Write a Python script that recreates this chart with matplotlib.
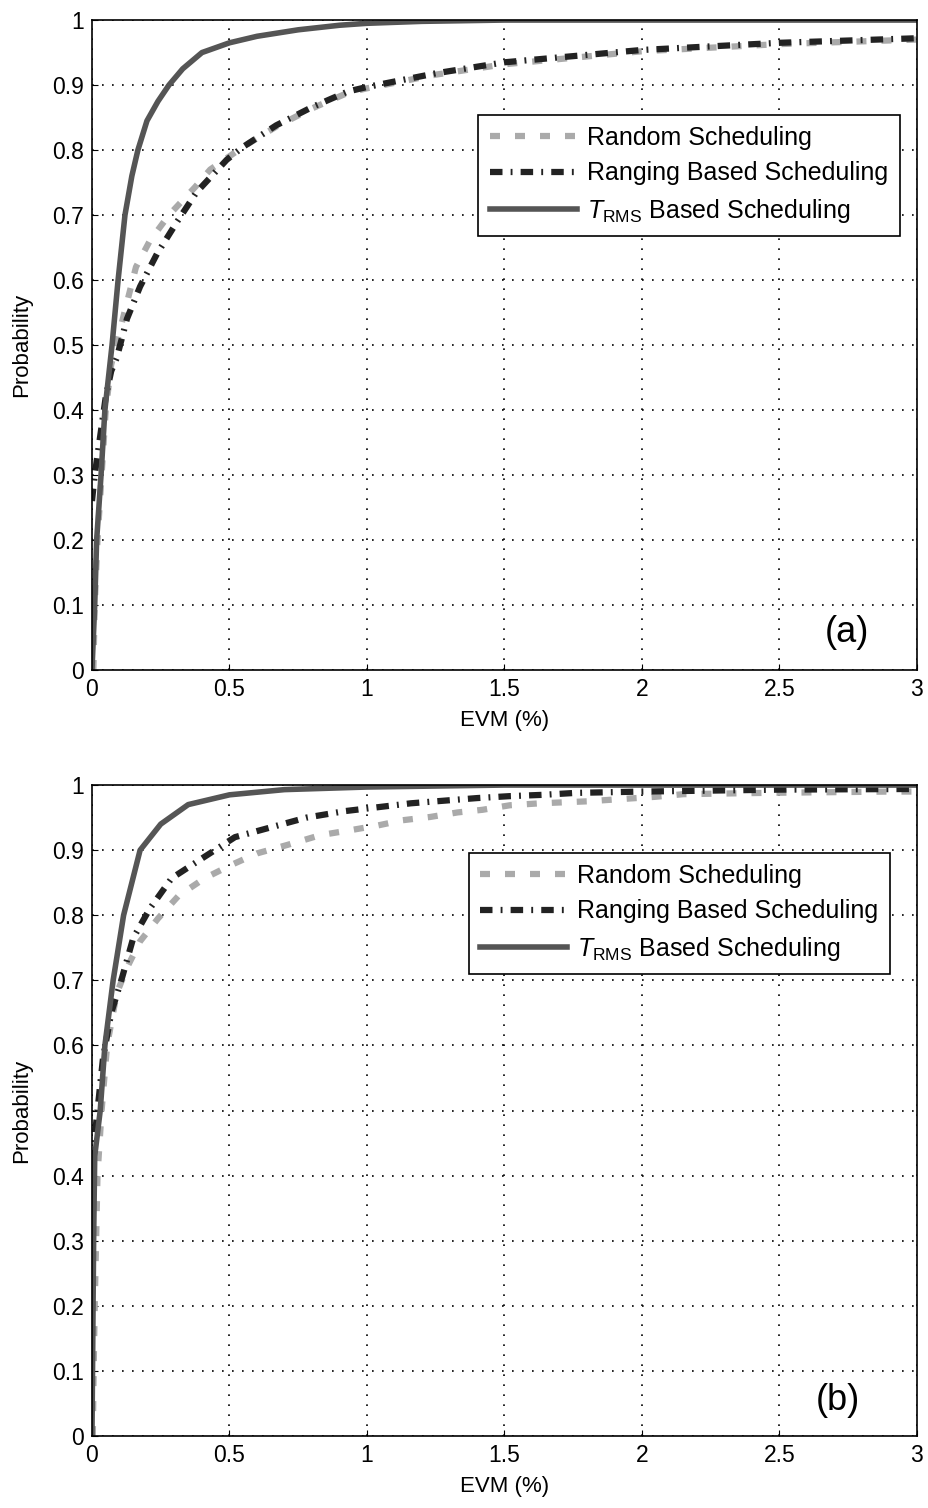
import matplotlib
matplotlib.use('Agg')
import matplotlib.pyplot as plt

plt.rcParams['font.family'] = ['Liberation Sans', 'DejaVu Sans']
plt.rcParams['mathtext.fontset'] = 'custom'
plt.rcParams['mathtext.rm'] = 'Liberation Sans'
plt.rcParams['mathtext.it'] = 'Liberation Sans:italic'

labels = ['Random Scheduling', 'Ranging Based Scheduling', r'$T_{\rm RMS}$ Based Scheduling']
xticks = [0, 0.5, 1, 1.5, 2, 2.5, 3]
yticks = [0, 0.1, 0.2, 0.3, 0.4, 0.5, 0.6, 0.7, 0.8, 0.9, 1]
xticklabels = ['0', '0.5', '1', '1.5', '2', '2.5', '3']
yticklabels = ['0', '0.1', '0.2', '0.3', '0.4', '0.5', '0.6', '0.7', '0.8', '0.9', '1']

# (a)
a_rand_x = [0.005, 0.01, 0.02, 0.035, 0.05, 0.07, 0.1, 0.13, 0.16, 0.21, 0.28, 0.375, 0.43, 0.55,
            0.67, 0.8, 0.93, 1.0, 1.25, 1.5, 2.0, 2.5, 3.0]
a_rand_y = [0, 0.1, 0.2, 0.3, 0.4, 0.47, 0.52, 0.57, 0.62, 0.66, 0.70, 0.743, 0.77, 0.805,
            0.836, 0.864, 0.888, 0.895, 0.916, 0.932, 0.952, 0.963, 0.97]
a_rang_x = [0, 0.01, 0.03, 0.05, 0.07, 0.09, 0.127, 0.175, 0.236, 0.31, 0.38, 0.49, 0.55, 0.67,
            0.8, 0.93, 1.0, 1.25, 1.5, 2.0, 2.5, 3.0]
a_rang_y = [0.26, 0.3, 0.36, 0.42, 0.46, 0.48, 0.54, 0.59, 0.64, 0.69, 0.735, 0.785, 0.805, 0.838,
            0.866, 0.89, 0.897, 0.918, 0.935, 0.954, 0.965, 0.972]
a_trms_x = [0, 0.005, 0.01, 0.017, 0.033, 0.047, 0.073, 0.095, 0.12, 0.145, 0.167, 0.2, 0.24,
            0.28, 0.33, 0.4, 0.5, 0.6, 0.75, 0.9, 1.0, 1.2, 1.5, 2, 3]
a_trms_y = [0, 0.05, 0.1, 0.2, 0.3, 0.4, 0.5, 0.6, 0.7, 0.76, 0.8, 0.845, 0.875,
            0.9, 0.925, 0.95, 0.965, 0.975, 0.985, 0.992, 0.995, 0.998, 1, 1, 1]

# (b)
b_rand_x = [0.003, 0.006, 0.01, 0.015, 0.02, 0.035, 0.055, 0.09, 0.128, 0.175, 0.24, 0.315, 0.41,
            0.505, 0.6, 0.71, 0.83, 0.93, 1.04, 1.13, 1.23, 1.33, 1.42, 1.52, 1.63, 1.8, 2.05,
            2.15, 2.45, 2.9, 3.0]
b_rand_y = [0, 0.1, 0.2, 0.3, 0.4, 0.5, 0.6, 0.68, 0.72, 0.76, 0.795, 0.83, 0.857,
            0.877, 0.895, 0.908, 0.923, 0.93, 0.938, 0.946, 0.951, 0.958, 0.962, 0.969, 0.972,
            0.975, 0.982, 0.986, 0.988, 0.99, 0.99]
b_rang_x = [0, 0.02, 0.04, 0.07, 0.11, 0.15, 0.21, 0.29, 0.41, 0.52, 0.65, 0.78, 0.92, 1.04,
            1.16, 1.28, 1.4, 1.52, 1.64, 1.76, 2.0, 2.5, 3.0]
b_rang_y = [0.42, 0.5, 0.58, 0.65, 0.705, 0.765, 0.81, 0.857, 0.89, 0.92, 0.935, 0.95, 0.96,
            0.966, 0.972, 0.976, 0.98, 0.983, 0.985, 0.988, 0.99, 0.993, 0.994]
b_trms_x = [0, 0.003, 0.006, 0.01, 0.03, 0.047, 0.077, 0.115, 0.175, 0.25, 0.35, 0.5, 0.7,
            1.0, 1.5, 3]
b_trms_y = [0, 0.15, 0.3, 0.43, 0.5, 0.6, 0.7, 0.8, 0.9, 0.94, 0.97, 0.985, 0.993,
            0.997, 1, 1]

fig = plt.figure(figsize=(9.29, 15.08), dpi=100)
ax1 = fig.add_axes([0.099, 0.5557, 0.888, 0.431])
ax2 = fig.add_axes([0.099, 0.0477, 0.888, 0.4317])

def drawPanel(ax, rx, ry, gx, gy, tx, ty, tag, legPos):
    ax.plot(rx, ry, color='#aaaaaa', lw=4.5, linestyle=(0, (1.6, 2.4)), label=labels[0])
    ax.plot(gx, gy, color='#222222', lw=4.5, linestyle=(0, (2.0, 1.3, 0.3, 1.3)), label=labels[1])
    ax.plot(tx, ty, color='#555555', lw=4, label=labels[2])
    ax.set_xlim(0, 3)
    ax.set_ylim(0, 1)
    ax.set_xticks(xticks)
    ax.set_xticklabels(xticklabels)
    ax.set_yticks(yticks)
    ax.set_yticklabels(yticklabels)
    ax.tick_params(direction='in', labelsize=16.5, length=4, pad=6)
    ax.grid(True, color='black', linestyle=(0, (1, 5)), lw=1.2)
    for s in ax.spines.values():
        s.set_linewidth(1.2)
    ax.set_xlabel('EVM (%)', fontsize=16, labelpad=6)
    ax.set_ylabel('Probability', fontsize=16, labelpad=14)
    leg = ax.legend(loc='upper right', bbox_to_anchor=legPos, fontsize=18, handlelength=3.5,
                    fancybox=False, edgecolor='black', framealpha=1, borderpad=0.45,
                    labelspacing=0.45, handletextpad=0.4, borderaxespad=0)
    leg.get_frame().set_linewidth(1.2)
    ax.text(tag[1], tag[2], tag[0], transform=ax.transAxes, fontsize=26,
            ha='center', va='center')

drawPanel(ax1, a_rand_x, a_rand_y, a_rang_x, a_rang_y, a_trms_x, a_trms_y,
          ('(a)', 0.915, 0.057), (0.979, 0.854))
drawPanel(ax2, b_rand_x, b_rand_y, b_rang_x, b_rang_y, b_trms_x, b_trms_y,
          ('(b)', 0.904, 0.055), (0.967, 0.896))

fig.savefig('out.png', dpi=100)
